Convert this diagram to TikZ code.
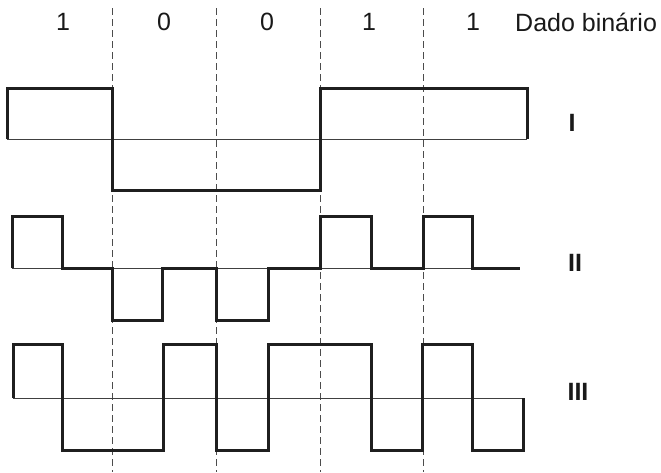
\documentclass[tikz,border=0pt]{standalone}
\usepackage{fontspec}
\setmainfont{Liberation Sans}
\begin{document}
\begin{tikzpicture}[x=1pt,y=-1pt,
  wave/.style={line width=3pt,color=black!88,line join=miter},
  axisline/.style={line width=1pt,color=black!75},
  divider/.style={line width=1pt,color=black!70,dash pattern=on 7pt off 4pt},
  lbl/.style={font=\fontsize{25}{28}\selectfont,text=black!90,inner sep=0pt},
  roman/.style={lbl,font=\fontsize{25}{28}\selectfont\bfseries}]
\useasboundingbox (0,0) rectangle (661,472);
% dividers
\foreach \x/\n in {112/a,216/b,320/c,423/d}{
  \coordinate (t\n) at (\x,8);
  \coordinate (b\n) at (\x,472);
  \draw[divider] (t\n) -- (b\n);
}
% top labels
\node[lbl] (d1) at (63,22) {1};
\node[lbl] (d2) at (164,22) {0};
\node[lbl] (d3) at (267,22) {0};
\node[lbl] (d4) at (369,22) {1};
\node[lbl] (d5) at (473,22) {1};
\node[lbl,anchor=west] (dado) at (515,22) {Dado binário};
% waveform I
\coordinate (Ia) at (7,139);
\coordinate (Ib) at (527,139);
\draw[axisline] (Ia) -- (Ib);
\draw[wave] (Ia) -- (7,88) -- (112,88) -- (112,190) -- (320,190) -- (320,88) -- (527,88) -- (Ib);
\node[roman] (lI) at (572,123) {I};
% waveform II
\coordinate (IIa) at (12,268);
\coordinate (IIb) at (520,268);
\draw[axisline] (IIa) -- (IIb);
\draw[wave] (IIa) -- (12,216) -- (62,216) -- (62,268) -- (112,268) -- (112,320) -- (162,320) -- (162,268)
  -- (216,268) -- (216,320) -- (268,320) -- (268,268) -- (320,268) -- (320,216) -- (371,216) -- (371,268)
  -- (423,268) -- (423,216) -- (472,216) -- (472,268) -- (IIb);
\node[roman] (lII) at (575,263) {II};
% waveform III
\coordinate (IIIa) at (13,398);
\coordinate (IIIb) at (523,398);
\draw[axisline] (IIIa) -- (IIIb);
\draw[wave] (IIIa) -- (13,344) -- (62,344) -- (62,450) -- (163,450) -- (163,344) -- (216,344) -- (216,450)
  -- (268,450) -- (268,344) -- (371,344) -- (371,450) -- (422,450) -- (422,344) -- (472,344) -- (472,450)
  -- (523,450) -- (IIIb);
\node[roman] (lIII) at (578,392) {III};
\end{tikzpicture}
\end{document}
